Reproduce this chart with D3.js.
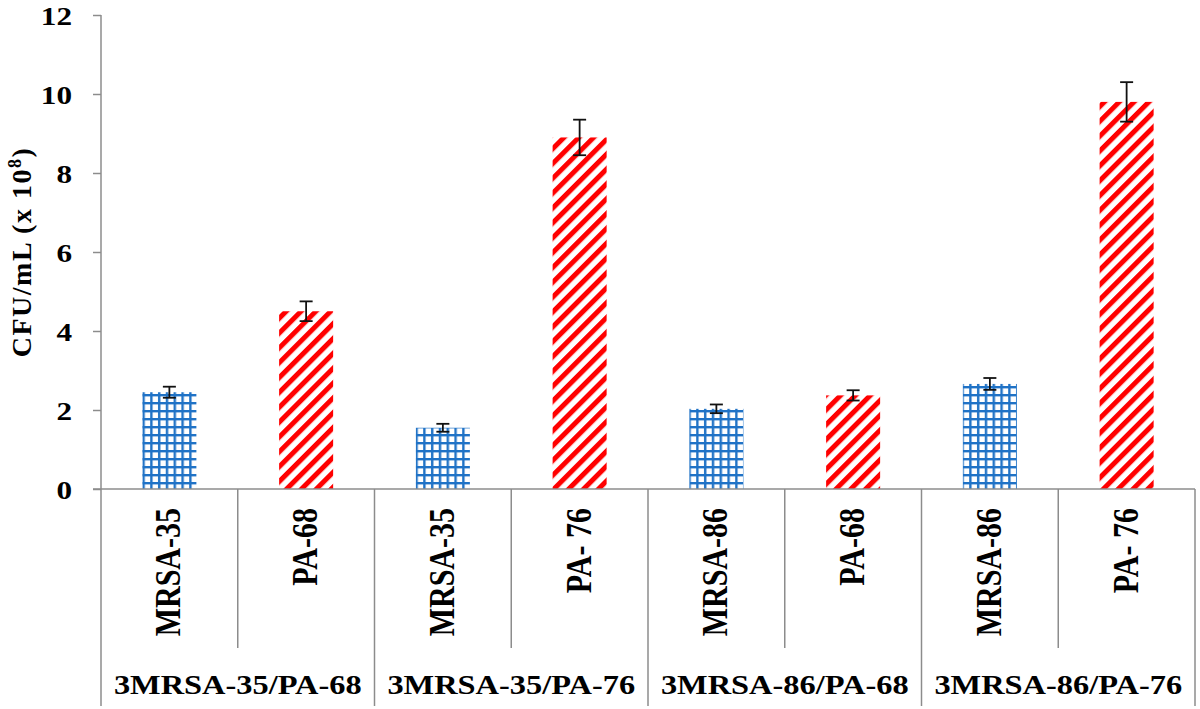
<!DOCTYPE html>
<html lang="en">
<head>
<meta charset="UTF-8">
<title>CFU/mL chart</title>
<script src="https://d3js.org/d3.v7.min.js"></script>
<style>
  body { margin: 0; background: #fff; }
  text { font-family: "Liberation Serif", "Times New Roman", serif; font-weight: bold; fill: #000; }
</style>
</head>
<body>
<script>
// data
var groups = ["3MRSA-35/PA-68", "3MRSA-35/PA-76", "3MRSA-86/PA-68", "3MRSA-86/PA-76"];
var strains = ["MRSA-35", "PA-68", "MRSA-35", "PA- 76", "MRSA-86", "PA-68", "MRSA-86", "PA- 76"];
var kinds = ["mrsa", "pa", "mrsa", "pa", "mrsa", "pa", "mrsa", "pa"];
var means = [2.45, 4.5, 1.55, 8.9, 2.03, 2.37, 2.66, 9.8];
var errs = [0.14, 0.25, 0.1, 0.45, 0.11, 0.13, 0.15, 0.5];
var yTicks = [0, 2, 4, 6, 8, 10, 12];

var W = 1200, H = 709;
var stretch = 1.2; // text in the picture is drawn a bit wide

var svg = d3.select("body").append("svg")
    .attr("width", W)
    .attr("height", H);

var defs = svg.append("defs");

// blue grid fill
var grid = defs.append("pattern")
    .attr("id", "grid")
    .attr("patternUnits", "userSpaceOnUse")
    .attr("width", 7.8).attr("height", 8);
grid.append("rect").attr("width", 7.8).attr("height", 8).attr("fill", "#fff");
grid.append("rect").attr("x", 2).attr("y", 0).attr("width", 2.4).attr("height", 8).attr("fill", "#1f72c6");
grid.append("rect").attr("x", 0).attr("y", 2).attr("width", 7.8).attr("height", 2.4).attr("fill", "#1f72c6");

// red diagonal hatch
var hatch = defs.append("pattern")
    .attr("id", "hatch")
    .attr("patternUnits", "userSpaceOnUse")
    .attr("width", 10.5).attr("height", 10.5)
    .attr("patternTransform", "rotate(45)");
hatch.append("rect").attr("width", 10.5).attr("height", 10.5).attr("fill", "#fff");
hatch.append("rect").attr("x", 0).attr("width", 5).attr("height", 10.5).attr("fill", "#ff0000");

var x0 = 101, x1 = 1195, y0 = 489, yTop = 15;

var x = d3.scaleBand()
    .domain(d3.range(strains.length))
    .range([x0, x1])
    .padding(0);

var y = d3.scaleLinear()
    .domain([0, 12])
    .range([y0, yTop]);

var barW = x.bandwidth() * 0.395;

// y axis
var yAxis = svg.append("g")
    .attr("transform", "translate(" + x0 + ",0)")
    .call(d3.axisLeft(y).tickValues(yTicks).tickSize(8).tickPadding(21).tickFormat(d3.format("d")));
yAxis.attr("font-family", null).attr("font-size", null);
yAxis.selectAll("path, line").attr("stroke", "#8c8c8c").attr("stroke-width", 1.5);
yAxis.select(".domain").attr("d", "M0," + yTop + "V" + y0);
yAxis.selectAll("text")
    .attr("font-size", 26)
    .attr("fill", "#000")
    .attr("dy", "0.35em")
    .attr("transform", function() {
        var xx = +d3.select(this).attr("x");
        return "translate(" + xx + ",0) scale(" + stretch + ",1) translate(" + (-xx) + ",0)";
    });

// bars
svg.append("g").selectAll("rect")
    .data(means)
    .enter()
    .append("rect")
    .attr("x", function(d, i) { return x(i) + x.bandwidth() / 2 - barW / 2; })
    .attr("y", function(d) { return y(d); })
    .attr("width", barW)
    .attr("height", function(d) { return y0 - y(d); })
    .attr("fill", function(d, i) { return kinds[i] == "mrsa" ? "url(#grid)" : "url(#hatch)"; });

// error bars
var eb = svg.append("g").attr("stroke", "#111").attr("stroke-width", 1.8);
means.forEach(function(m, i) {
    var cx = x(i) + x.bandwidth() / 2;
    eb.append("line").attr("x1", cx).attr("x2", cx).attr("y1", y(m + errs[i])).attr("y2", y(m - errs[i]));
    eb.append("line").attr("x1", cx - 6.5).attr("x2", cx + 6.5).attr("y1", y(m + errs[i])).attr("y2", y(m + errs[i]));
    eb.append("line").attr("x1", cx - 6.5).attr("x2", cx + 6.5).attr("y1", y(m - errs[i])).attr("y2", y(m - errs[i]));
});

// x axis and category dividers
var xa = svg.append("g").attr("stroke", "#8c8c8c").attr("stroke-width", 1.5);
xa.append("line").attr("x1", x0 - 8).attr("x2", x1).attr("y1", y0).attr("y2", y0);
d3.range(strains.length + 1).forEach(function(i) {
    var xx = i < strains.length ? x(i) : x1;
    var bottom = (i % 2 == 0) ? 706 : 648;
    xa.append("line").attr("x1", xx).attr("x2", xx).attr("y1", y0).attr("y2", bottom);
});

// strain labels (rotated)
svg.append("g").selectAll("text")
    .data(strains)
    .enter()
    .append("text")
    .attr("transform", function(d, i) {
        return "translate(" + (x(i) + x.bandwidth() / 2 + 11) + ",508) scale(" + stretch + ",1) rotate(-90)";
    })
    .attr("text-anchor", "end")
    .attr("font-size", 30)
    .text(function(d) { return d; });

// group labels
svg.append("g").selectAll("text")
    .data(groups)
    .enter()
    .append("text")
    .attr("transform", function(d, i) {
        return "translate(" + (x(i * 2) + x.bandwidth()) + ",694) scale(" + stretch + ",1)";
    })
    .attr("text-anchor", "middle")
    .attr("font-size", 27)
    .text(function(d) { return d; });

// y title
var yt = svg.append("text")
    .attr("transform", "translate(31,252) rotate(-90)")
    .attr("text-anchor", "middle")
    .attr("font-size", 28)
    .attr("letter-spacing", 1.5);
yt.append("tspan").text("CFU/mL  (x 10");
yt.append("tspan").attr("font-size", 18).attr("dy", -10).text("8");
yt.append("tspan").attr("dy", 10).text(")");
</script>
</body>
</html>
